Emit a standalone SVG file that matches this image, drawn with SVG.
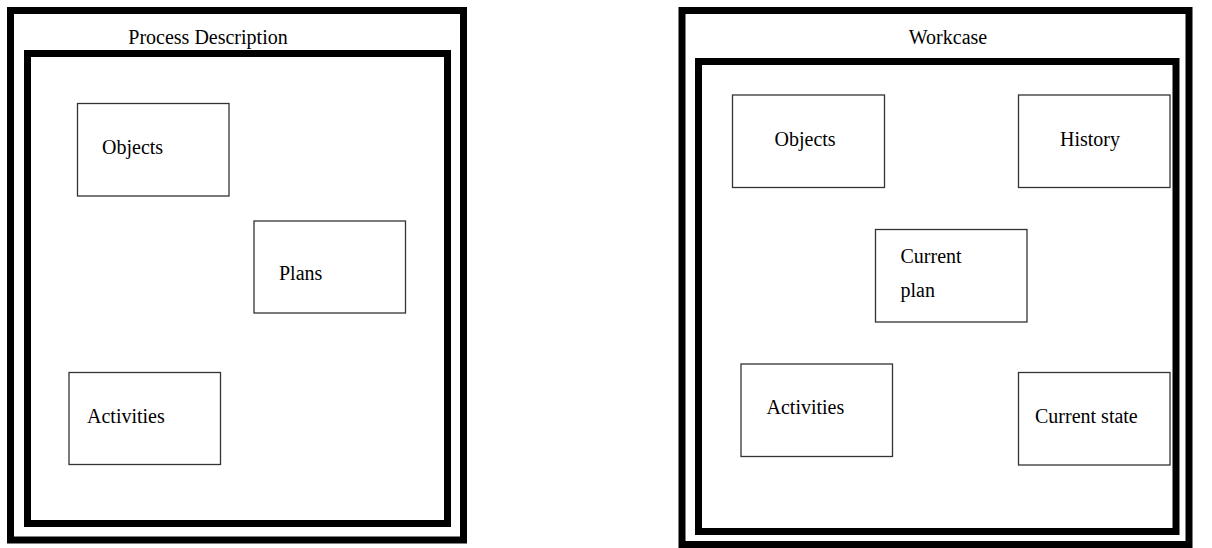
<svg xmlns="http://www.w3.org/2000/svg" width="1212" height="548" viewBox="0 0 1212 548">
<style>
.frame{fill:none;stroke:#000;stroke-width:7}
.box{fill:#fff;stroke:#333;stroke-width:1.3}
text{font-family:"Liberation Serif","Times New Roman",serif;font-size:20px;fill:#000}
</style>
<rect x="0" y="0" width="1212" height="548" fill="#fff"/>
<g id="process-description">
<rect class="frame" x="10.5" y="10.5" width="453" height="529.5"/>
<text x="208" y="44" text-anchor="middle">Process Description</text>
<rect class="frame" x="27.5" y="53.5" width="420" height="470"/>
</g>
<g id="pd-objects">
<rect class="box" x="77.5" y="103.5" width="151.5" height="92.5"/>
<text x="102" y="154">Objects</text>
</g>
<g id="pd-plans">
<rect class="box" x="254" y="221" width="151.5" height="92"/>
<text x="279" y="280">Plans</text>
</g>
<g id="pd-activities">
<rect class="box" x="69" y="372.5" width="151.5" height="92"/>
<text x="87" y="423">Activities</text>
</g>
<g id="workcase">
<rect class="frame" x="682" y="10.5" width="507" height="534"/>
<text x="948" y="44" text-anchor="middle">Workcase</text>
<rect class="frame" x="698.5" y="61.5" width="477.5" height="470"/>
</g>
<g id="wc-objects">
<rect class="box" x="732.5" y="95" width="152" height="92.5"/>
<text x="774.5" y="146">Objects</text>
</g>
<g id="wc-history">
<rect class="box" x="1018.5" y="95" width="151.5" height="92.5"/>
<text x="1060" y="146">History</text>
</g>
<g id="wc-current-plan">
<rect class="box" x="875.5" y="229.5" width="151.5" height="92.5"/>
<text x="900.5" y="263">Current</text>
<text x="900.5" y="296.5">plan</text>
</g>
<g id="wc-activities">
<rect class="box" x="741" y="364" width="151.5" height="92.5"/>
<text x="766.5" y="413.5">Activities</text>
</g>
<g id="wc-current-state">
<rect class="box" x="1018.5" y="372.5" width="151.5" height="92.5"/>
<text x="1035" y="423">Current state</text>
</g>
<g id="connectors"></g>
</svg>
